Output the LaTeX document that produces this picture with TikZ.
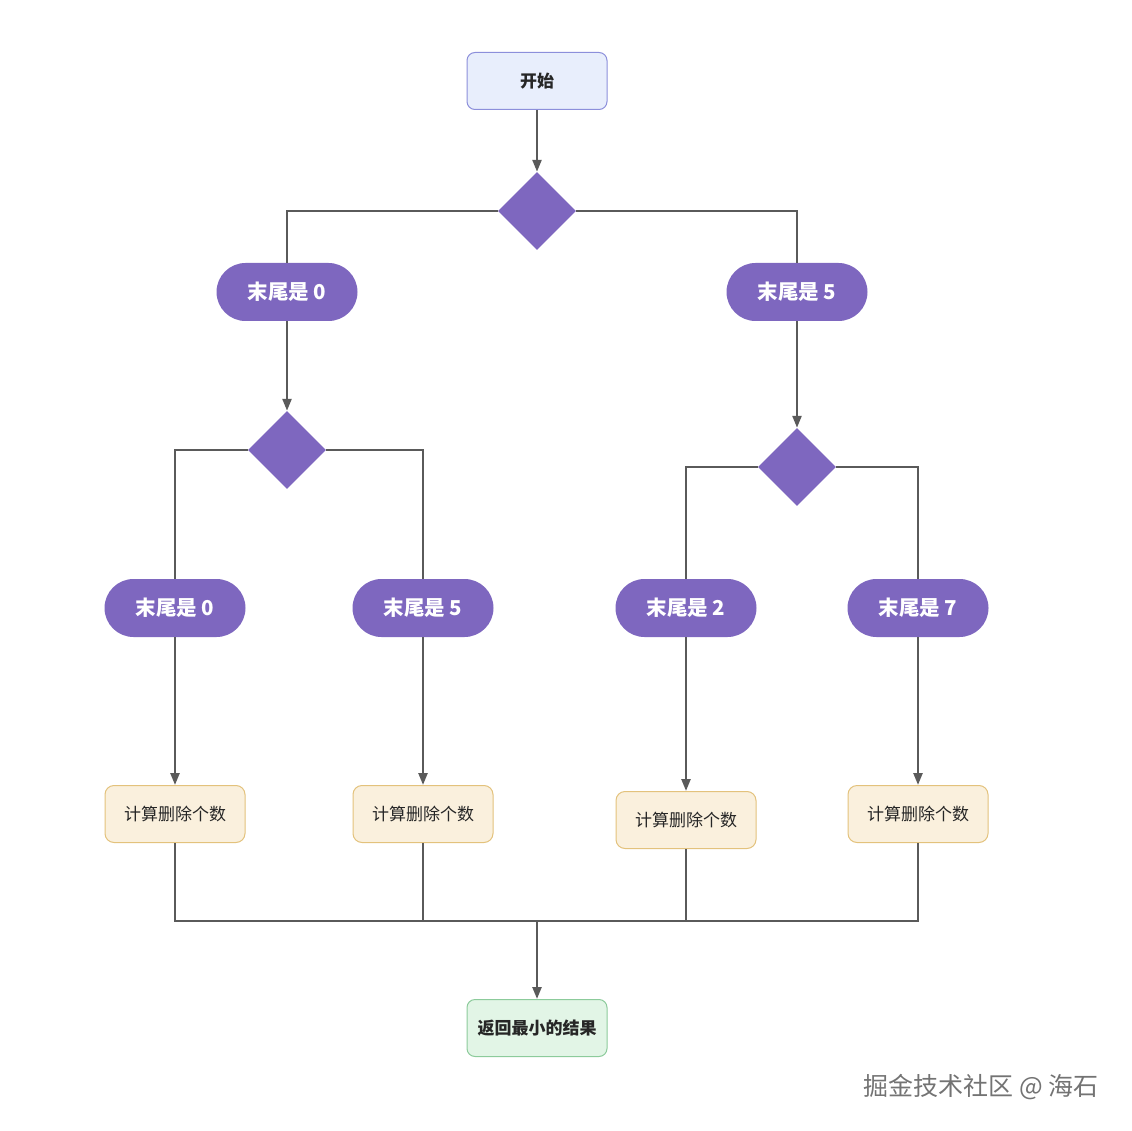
\documentclass[tikz,border=0pt]{standalone}
\usepackage{fontspec}
\setmainfont{Noto Sans CJK SC}
\newfontfamily\cjk{Noto Sans CJK SC}
\usetikzlibrary{shapes.geometric,arrows.meta}
\definecolor{lineC}{HTML}{5A5A5A}
\definecolor{purp}{HTML}{7E67BF}
\definecolor{startF}{HTML}{E8EEFC}
\definecolor{startD}{HTML}{8C8FDB}
\definecolor{calcF}{HTML}{FAF0DD}
\definecolor{calcD}{HTML}{E3C27C}
\definecolor{resF}{HTML}{E2F5E6}
\definecolor{resD}{HTML}{8CCB9B}
\tikzset{
  conn/.style={draw=lineC, line width=2.4pt},
  arr/.style={conn, -{Triangle[length=12pt,width=9pt]}},
  startbox/.style={draw=startD, fill=startF, line width=1pt, rounded corners=8pt, minimum width=140pt, minimum height=57pt, inner sep=0pt, font=\cjk\bfseries\fontsize{17}{20}\selectfont, text=black!85},
  resbox/.style={startbox, draw=resD, fill=resF},
  calcbox/.style={draw=calcD, fill=calcF, line width=1pt, rounded corners=9pt, minimum width=140pt, minimum height=57pt, inner sep=0pt, font=\cjk\fontsize{17}{20}\selectfont, text=black!85},
  pill/.style={fill=purp, rounded corners=29pt, minimum width=141pt, minimum height=58pt, inner sep=0pt, font=\cjk\bfseries\fontsize{20.5}{24}\selectfont, text=white},
  dia/.style={diamond, fill=purp, minimum width=78pt, minimum height=78pt, inner sep=0pt, aspect=1},
}
\begin{document}
\begin{tikzpicture}[x=1pt,y=-1pt]
\useasboundingbox (0,0) rectangle (1132,1131);
\node[startbox] (start) at (537,81) {开始};
\node[dia] (d1) at (537,211) {};
\node[pill] (p1) at (287,292) {末尾是 0};
\node[pill] (p2) at (797,292) {末尾是 5};
\node[dia] (d2) at (287,450) {};
\node[dia] (d3) at (797,467) {};
\node[pill] (q1) at (175,608) {末尾是 0};
\node[pill] (q2) at (423,608) {末尾是 5};
\node[pill] (q3) at (686,608) {末尾是 2};
\node[pill] (q4) at (918,608) {末尾是 7};
\node[calcbox] (c1) at (175,814) {计算删除个数};
\node[calcbox] (c2) at (423,814) {计算删除个数};
\node[calcbox] (c3) at (686,820) {计算删除个数};
\node[calcbox] (c4) at (918,814) {计算删除个数};
\node[resbox] (res) at (537,1028) {返回最小的结果};
\coordinate (j) at (537,921);
\node[anchor=east, font=\cjk\fontsize{25}{28}\selectfont, text=black!55] (wm) at (1102,1087) {掘金技术社区 @ 海石};

\draw[arr] (start) -- (d1);
\draw[conn] (d1.west) -| (p1.north);
\draw[conn] (d1.east) -| (p2.north);
\draw[arr] (p1) -- (d2);
\draw[arr] (p2) -- (d3);
\draw[conn] (d2.west) -| (q1.north);
\draw[conn] (d2.east) -| (q2.north);
\draw[conn] (d3.west) -| (q3.north);
\draw[conn] (d3.east) -| (q4.north);
\draw[arr] (q1) -- (c1);
\draw[arr] (q2) -- (c2);
\draw[arr] (q3) -- (c3);
\draw[arr] (q4) -- (c4);
\draw[conn] (c1.south) |- (j);
\draw[conn] (c2.south) |- (j);
\draw[conn] (c3.south) |- (j);
\draw[conn] (c4.south) |- (j);
\draw[arr] (j) -- (res);
\end{tikzpicture}
\end{document}
